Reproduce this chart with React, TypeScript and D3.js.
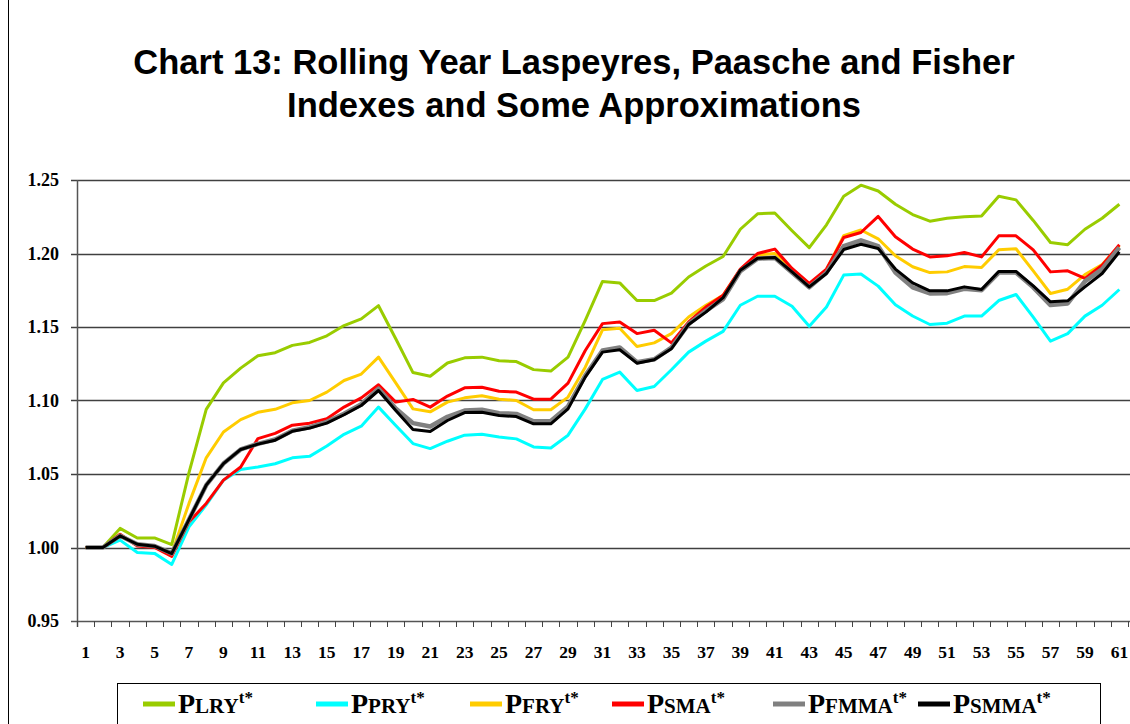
import React from 'react';
import * as d3 from 'd3';

// periods 1..61
const periods: number[] = d3.range(1, 62);
const xTickLabels: string[] = periods.filter(p => p % 2 === 1).map(String);
const yTicks: number[] = [0.95, 1.0, 1.05, 1.1, 1.15, 1.2, 1.25];

const lry: number[] = [
  1.000, 1.000, 1.013, 1.0065, 1.0065, 1.002, 1.051, 1.094, 1.112, 1.122,
  1.1305, 1.1325, 1.1375, 1.1395, 1.144, 1.151, 1.1555, 1.1645, 1.142, 1.119,
  1.1165, 1.1255, 1.129, 1.1295, 1.127, 1.1265, 1.121, 1.120, 1.1295, 1.1545,
  1.181, 1.180, 1.168, 1.168, 1.173, 1.184, 1.1915, 1.198, 1.2165, 1.227,
  1.2275, 1.2155, 1.204, 1.2195, 1.239, 1.2465, 1.2425, 1.2335, 1.2265, 1.222,
  1.224, 1.225, 1.2255, 1.239, 1.2365, 1.2225, 1.2075, 1.206, 1.2165, 1.224,
  1.2335];
const pry: number[] = [
  1.000, 1.000, 1.005, 0.9966, 0.996, 0.9885, 1.014, 1.029, 1.0458, 1.053,
  1.0548, 1.057, 1.061, 1.062, 1.069, 1.077, 1.0825, 1.0955, 1.083, 1.0707,
  1.0673, 1.0723, 1.0764, 1.077, 1.0752, 1.0739, 1.0684, 1.0677, 1.0764, 1.0943,
  1.1143, 1.1193, 1.1068, 1.1095, 1.1209, 1.1329, 1.1404, 1.147, 1.1648, 1.1709,
  1.1709, 1.1641, 1.1505, 1.1636, 1.1853, 1.186, 1.1778, 1.1651, 1.1575, 1.1517,
  1.1526, 1.1574, 1.1574, 1.168, 1.1721, 1.1567, 1.1404, 1.1455, 1.1574, 1.1648,
  1.1755];
const fry: number[] = [
  1.000, 1.000, 1.0085, 1.002, 1.001, 0.996, 1.030, 1.061, 1.0786, 1.087,
  1.092, 1.094, 1.0984, 1.100, 1.1057, 1.1136, 1.118, 1.1295, 1.112, 1.0943,
  1.0923, 1.0989, 1.1018, 1.1032, 1.1009, 1.100, 1.0937, 1.0937, 1.1023, 1.1227,
  1.1481, 1.1492, 1.1367, 1.1392, 1.1455, 1.1568, 1.1648, 1.1716, 1.189, 1.199,
  1.200, 1.1894, 1.179, 1.189, 1.2121, 1.216, 1.210, 1.1985, 1.191, 1.187,
  1.1875, 1.1911, 1.1905, 1.2025, 1.2032, 1.1882, 1.1728, 1.1757, 1.1857, 1.1925,
  1.2052];
const sma: number[] = [
  1.000, 1.000, 1.009, 1.001, 1.000, 0.994, 1.0174, 1.030, 1.0458, 1.0548,
  1.0741, 1.0776, 1.0832, 1.0846, 1.0876, 1.0955, 1.1018, 1.1107, 1.0989, 1.1007,
  1.0955, 1.103, 1.1086, 1.109, 1.1063, 1.1057, 1.1009, 1.1009, 1.1118, 1.134,
  1.1523, 1.1534, 1.1455, 1.1478, 1.1392, 1.1534, 1.1636, 1.1716, 1.1894, 1.200,
  1.203, 1.1898, 1.1796, 1.1894, 1.2109, 1.2143, 1.2252, 1.2114, 1.203, 1.1977,
  1.1984, 1.2007, 1.1977, 1.212, 1.212, 1.2025, 1.1875, 1.1882, 1.183, 1.1921,
  1.2059];
const fmma: number[] = [
  1.000, 1.000, 1.008, 1.0022, 1.001, 0.996, 1.019, 1.0424, 1.0571, 1.0667,
  1.0705, 1.0735, 1.0795, 1.0818, 1.0855, 1.091, 1.0975, 1.108, 1.0945, 1.0846,
  1.0823, 1.0889, 1.0932, 1.0937, 1.0914, 1.0909, 1.0859, 1.086, 1.096, 1.117,
  1.134, 1.136, 1.126, 1.128, 1.136, 1.152, 1.161, 1.169, 1.188, 1.1965,
  1.197, 1.187, 1.177, 1.187, 1.205, 1.209, 1.205, 1.187, 1.177, 1.1728,
  1.173, 1.176, 1.175, 1.187, 1.187, 1.177, 1.1649, 1.166, 1.181, 1.1894,
  1.2041];
const smma: number[] = [
  1.000, 1.000, 1.0079, 1.0022, 1.0009, 0.9959, 1.019, 1.0424, 1.0571, 1.0667,
  1.0703, 1.073, 1.0791, 1.0812, 1.0846, 1.0903, 1.0966, 1.1068, 1.0932, 1.0803,
  1.0789, 1.0864, 1.0918, 1.092, 1.0898, 1.0891, 1.0841, 1.0841, 1.0943, 1.1159,
  1.1329, 1.1345, 1.1254, 1.1277, 1.1352, 1.1517, 1.1601, 1.170, 1.1886, 1.1968,
  1.1973, 1.1875, 1.1773, 1.1864, 1.2027, 1.2063, 1.2034, 1.1894, 1.180, 1.1746,
  1.1746, 1.1773, 1.1755, 1.1878, 1.1878, 1.178, 1.1671, 1.1678, 1.1773, 1.1864,
  1.2011];

const seriesNames: string[] = ['LRY', 'PRY', 'FRY', 'SMA', 'FMMA', 'SMMA'];
const seriesValues: number[][] = [lry, pry, fry, sma, fmma, smma];
const seriesColors: string[] = ['#99CC00', '#00FFFF', '#FFCC00', '#FF0000', '#808080', '#000000'];
const seriesWidths: number[] = [3, 3, 3, 3, 4.5, 3];
const legendX: number[] = [143, 316, 470, 612, 773, 918];

const W = 1130, H = 724;
const left = 77, right = 1128, top = 180, bottom = 621;

export default function App() {
  const x = d3.scaleBand<number>().domain(periods).range([left, right]);
  const y = d3.scaleLinear().domain([0.95, 1.25]).range([bottom, top]);
  const line = d3.line<number>()
    .x((_, i) => (x(periods[i]) as number) + x.bandwidth() / 2)
    .y(d => y(d));

  const serif = '"Liberation Serif", "Times New Roman", serif';

  return (
    <svg width={W} height={H} style={{ position: 'absolute', left: 0, top: 0, background: '#fff' }}>
      <rect x={0} y={0} width={W} height={H} fill="#fff" />
      <line x1={8.5} y1={0} x2={8.5} y2={H} stroke="#000" strokeWidth={1} />

      <text x={574} y={74} textAnchor="middle" fontFamily='"Liberation Sans", Arial, sans-serif'
        fontWeight="bold" fontSize={34.5}>Chart 13: Rolling Year Laspeyres, Paasche and Fisher</text>
      <text x={574} y={117} textAnchor="middle" fontFamily='"Liberation Sans", Arial, sans-serif'
        fontWeight="bold" fontSize={34.5}>Indexes and Some Approximations</text>

      {/* gridlines */}
      {yTicks.map(t => (
        <line key={'g' + t} x1={left - 6} x2={right + 2} y1={Math.round(y(t)) + 0.5} y2={Math.round(y(t)) + 0.5}
          stroke={t === 0.95 ? '#555' : '#404040'} strokeWidth={1.3} />
      ))}
      <line x1={left + 0.5} x2={left + 0.5} y1={top} y2={bottom + 6} stroke="#555" strokeWidth={1.5} />
      {/* x ticks on category boundaries */}
      {d3.range(0, periods.length + 1).map(i => {
        const xx = Math.round(left + i * x.step()) + 0.5;
        return <line key={'xt' + i} x1={xx} x2={xx} y1={bottom} y2={bottom + 6} stroke="#444" strokeWidth={1} />;
      })}
      {yTicks.map(t => (
        <text key={'yl' + t} x={59} y={y(t) + 6} textAnchor="end" fontFamily={serif} fontWeight="bold" fontSize={18}>
          {t.toFixed(2)}
        </text>
      ))}
      {xTickLabels.map(l => (
        <text key={'xl' + l} x={(x(+l) as number) + x.bandwidth() / 2} y={658} textAnchor="middle"
          fontFamily={serif} fontWeight="bold" fontSize={17.5}>{l}</text>
      ))}

      {seriesValues.map((vals, si) => (
        <path key={'s' + si} d={line(vals) || ''} fill="none" stroke={seriesColors[si]}
          strokeWidth={seriesWidths[si]} strokeLinejoin="round" />
      ))}

      {/* legend */}
      <rect x={117.5} y={683.5} width={983} height={60} fill="#fff" stroke="#000" strokeWidth={1} />
      {seriesNames.map((n, si) => (
        <g key={'lg' + si}>
          <line x1={legendX[si]} x2={legendX[si] + 32} y1={704} y2={704} stroke={seriesColors[si]} strokeWidth={5} />
          <text x={legendX[si] + 35} y={713} fontFamily={serif} fontWeight="bold" fontSize={28}>
            P<tspan fontSize={21}>{n}</tspan><tspan fontSize={17} dy={-10}>t*</tspan>
          </text>
        </g>
      ))}
    </svg>
  );
}
